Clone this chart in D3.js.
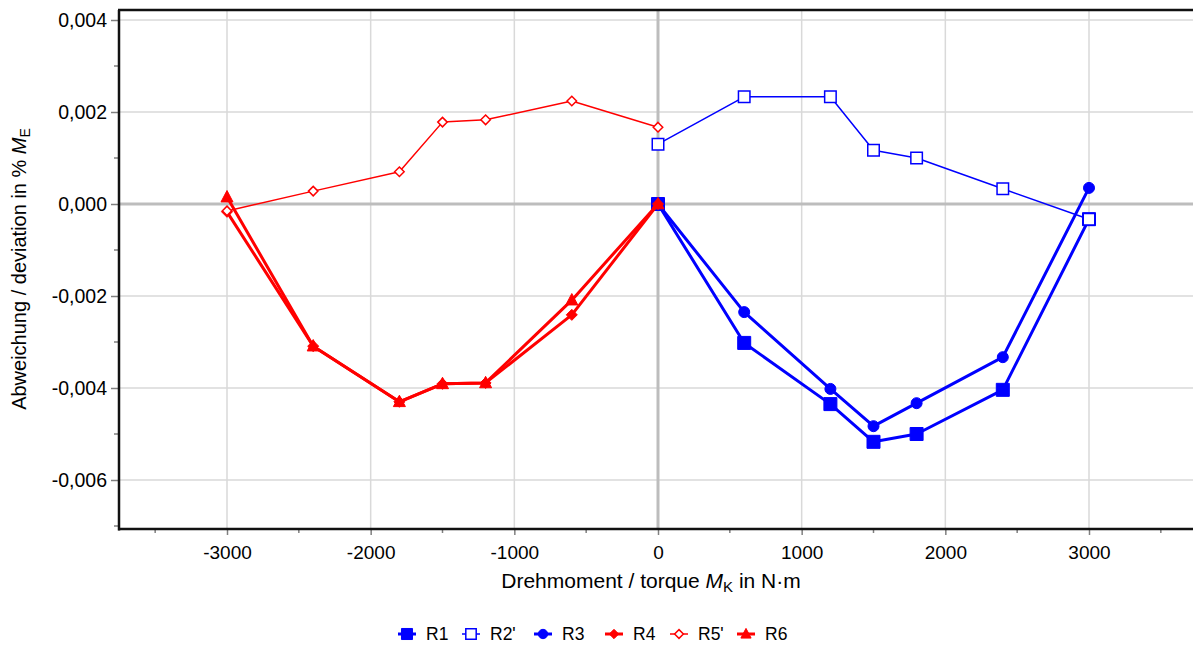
<!DOCTYPE html>
<html><head><meta charset="utf-8">
<script src="https://cdn.jsdelivr.net/npm/d3@7"></script>
<style>body{margin:0;background:#fff}svg{display:block;font-family:"Liberation Sans",Arial,sans-serif}</style>
</head><body><svg id="c" width="1193" height="645"></svg>
<script>
const xPos = [0, 600, 1200, 1500, 1800, 2400, 3000];
const xNeg = [-3000, -2400, -1800, -1500, -1200, -600, 0];
const R1  = [0, -0.00302, -0.00435, -0.00517, -0.00500, -0.00404, -0.00033];
const R2p = [0.00130, 0.00233, 0.00233, 0.00117, 0.00100, 0.00033, -0.00033];
const R3  = [0, -0.00235, -0.00402, -0.00483, -0.00433, -0.00333, 0.00035];
const R4  = [-0.00017, -0.00309, -0.00430, -0.00391, -0.00389, -0.00241, 0];
const R5p = [-0.00015, 0.00028, 0.00070, 0.00178, 0.00183, 0.00224, 0.00167];
const R6  = [0.00015, -0.00309, -0.00430, -0.00391, -0.00389, -0.00209, 0];
const xTicks = [-3000, -2000, -1000, 0, 1000, 2000, 3000];
const yTicks = [0.004, 0.002, 0, -0.002, -0.004, -0.006];

const series = [
  {name:"R1",  xs:xPos, ys:R1,  color:"#0000ff", sym:"square",  fill:true,  w:3,   size:13},
  {name:"R2'", xs:xPos, ys:R2p, color:"#0000ff", sym:"square",  fill:false, w:1.5, size:13},
  {name:"R3",  xs:xPos, ys:R3,  color:"#0000ff", sym:"circle",  fill:true,  w:3,   size:11},
  {name:"R4",  xs:xNeg, ys:R4,  color:"#ff0000", sym:"diamond", fill:true,  w:3,   size:11},
  {name:"R5'", xs:xNeg, ys:R5p, color:"#ff0000", sym:"diamond", fill:false, w:1.5, size:11},
  {name:"R6",  xs:xNeg, ys:R6,  color:"#ff0000", sym:"triangle",fill:true,  w:3,   size:12}
];

const svg = d3.select("#c");
const L = 119, T = 10, B = 529, R = 1200;
const x = d3.scaleLinear().domain([-3000, 3000]).range([227, 1089]);
const y = d3.scaleLinear().domain([0.004, -0.006]).range([20, 480]);
const fmt = d => d3.format(".3f")(d).replace(".", ",").replace("−", "-");

const g = svg.append("g");
// grid
g.selectAll(".gx").data(xTicks.filter(d=>d!==0)).join("line")
  .attr("x1", d=>x(d)).attr("x2", d=>x(d)).attr("y1", T).attr("y2", B)
  .attr("stroke", "#d9d9d9").attr("stroke-width", 1.5);
g.selectAll(".gy").data(yTicks.filter(d=>d!==0)).join("line")
  .attr("x1", L).attr("x2", R).attr("y1", d=>y(d)).attr("y2", d=>y(d))
  .attr("stroke", "#d9d9d9").attr("stroke-width", 1.5);
g.append("line").attr("x1", x(0)).attr("x2", x(0)).attr("y1", T).attr("y2", B)
  .attr("stroke", "#bdbdbd").attr("stroke-width", 3);
g.append("line").attr("x1", L).attr("x2", R).attr("y1", y(0)).attr("y2", y(0))
  .attr("stroke", "#bdbdbd").attr("stroke-width", 3);

// axes
const yAxis = d3.axisLeft(y).tickValues(yTicks).tickFormat(fmt).tickSize(8).tickPadding(4);
const ya = svg.append("g").attr("transform", `translate(${L},0)`).call(yAxis);
ya.select(".domain").remove();
ya.selectAll("line").attr("stroke", "#808080").attr("stroke-width", 1.5);
ya.selectAll("text").attr("font-size", 19.5).attr("fill", "#000");
const yMinor = d3.range(-0.007, 0.0041, 0.001).filter(v => Math.round(v*1000) % 2 !== 0);
svg.append("g").selectAll("line").data(yMinor).join("line")
  .attr("x1", L-5).attr("x2", L).attr("y1", d=>y(d)).attr("y2", d=>y(d))
  .attr("stroke", "#808080").attr("stroke-width", 1.5);

const xAxis = d3.axisBottom(x).tickValues(xTicks).tickFormat(d=>String(d)).tickSize(6).tickPadding(11);
const xa = svg.append("g").attr("transform", `translate(0,${B})`).call(xAxis);
xa.select(".domain").remove();
xa.selectAll("line").attr("stroke", "#808080").attr("stroke-width", 1.5);
xa.selectAll("text").attr("font-size", 19).attr("fill", "#000");
const xMinor = [-3500, -2500, -1500, -500, 500, 1500, 2500, 3500];
svg.append("g").selectAll("line").data(xMinor).join("line")
  .attr("x1", d=>x(d)).attr("x2", d=>x(d)).attr("y1", B).attr("y2", B+4)
  .attr("stroke", "#808080").attr("stroke-width", 1.5);

svg.append("line").attr("x1", L).attr("x2", L).attr("y1", T).attr("y2", B+1.5).attr("stroke", "#111").attr("stroke-width", 2.5);
svg.append("line").attr("x1", L-1).attr("x2", R).attr("y1", B).attr("y2", B).attr("stroke", "#111").attr("stroke-width", 2.5);
svg.append("line").attr("x1", L-1).attr("x2", R).attr("y1", T).attr("y2", T).attr("stroke", "#111").attr("stroke-width", 2.5);

// labels
const xl = svg.append("text").attr("x", 651).attr("y", 588).attr("text-anchor", "middle").attr("font-size", 21);
xl.append("tspan").text("Drehmoment / torque ");
xl.append("tspan").attr("font-style", "italic").text("M");
xl.append("tspan").attr("font-size", 15).attr("dy", 4).text("K");
xl.append("tspan").attr("dy", -4).text(" in N·m");

const yl = svg.append("text").attr("transform", "translate(26,269) rotate(-90)").attr("text-anchor", "middle").attr("font-size", 20);
yl.append("tspan").text("Abweichung / deviation in % ");
yl.append("tspan").attr("font-style", "italic").text("M");
yl.append("tspan").attr("font-size", 14).attr("dy", 4).text("E");

// symbols
function symPath(sym, size) {
  const s = size;
  if (sym === "square") return `M${-s/2},${-s/2}h${s}v${s}h${-s}Z`;
  if (sym === "circle") return d3.symbol(d3.symbolCircle, Math.PI*(s/2)*(s/2))();
  if (sym === "diamond") return `M0,${-s/2}L${s/2},0L0,${s/2}L${-s/2},0Z`;
  if (sym === "triangle") return `M0,${-s*0.55}L${s/2},${s*0.4}L${-s/2},${s*0.4}Z`;
}

const line = d3.line().x(d=>x(d[0])).y(d=>y(d[1]));
const plot = svg.append("g");
series.forEach(s => {
  const pts = s.xs.map((v,i)=>[v, s.ys[i]]);
  plot.append("path").attr("d", line(pts)).attr("fill", "none")
    .attr("stroke", s.color).attr("stroke-width", s.w).attr("stroke-linejoin", "round");
  plot.append("g").selectAll("path").data(pts).join("path")
    .attr("transform", d=>`translate(${x(d[0])},${y(d[1])})`)
    .attr("d", symPath(s.sym, s.fill ? s.size : s.size - 1.5))
    .attr("fill", s.fill ? s.color : "#fff")
    .attr("stroke", s.color).attr("stroke-width", s.fill ? 1 : 1.5);
});

// legend
const legX = [407, 471, 543, 614, 679, 746];
const leg = svg.append("g");
series.forEach((s, i) => {
  const cx = legX[i], cy = 634;
  leg.append("line").attr("x1", cx-9).attr("x2", cx+9).attr("y1", cy).attr("y2", cy)
    .attr("stroke", s.color).attr("stroke-width", s.w);
  leg.append("path").attr("transform", `translate(${cx},${cy})`)
    .attr("d", symPath(s.sym, s.fill ? s.size*0.85 : s.size*0.8))
    .attr("fill", s.fill ? s.color : "#fff").attr("stroke", s.color).attr("stroke-width", s.fill ? 1 : 1.5);
  leg.append("text").attr("x", cx+19).attr("y", cy+6).attr("font-size", 17.5).text(s.name);
});
</script></body></html>
